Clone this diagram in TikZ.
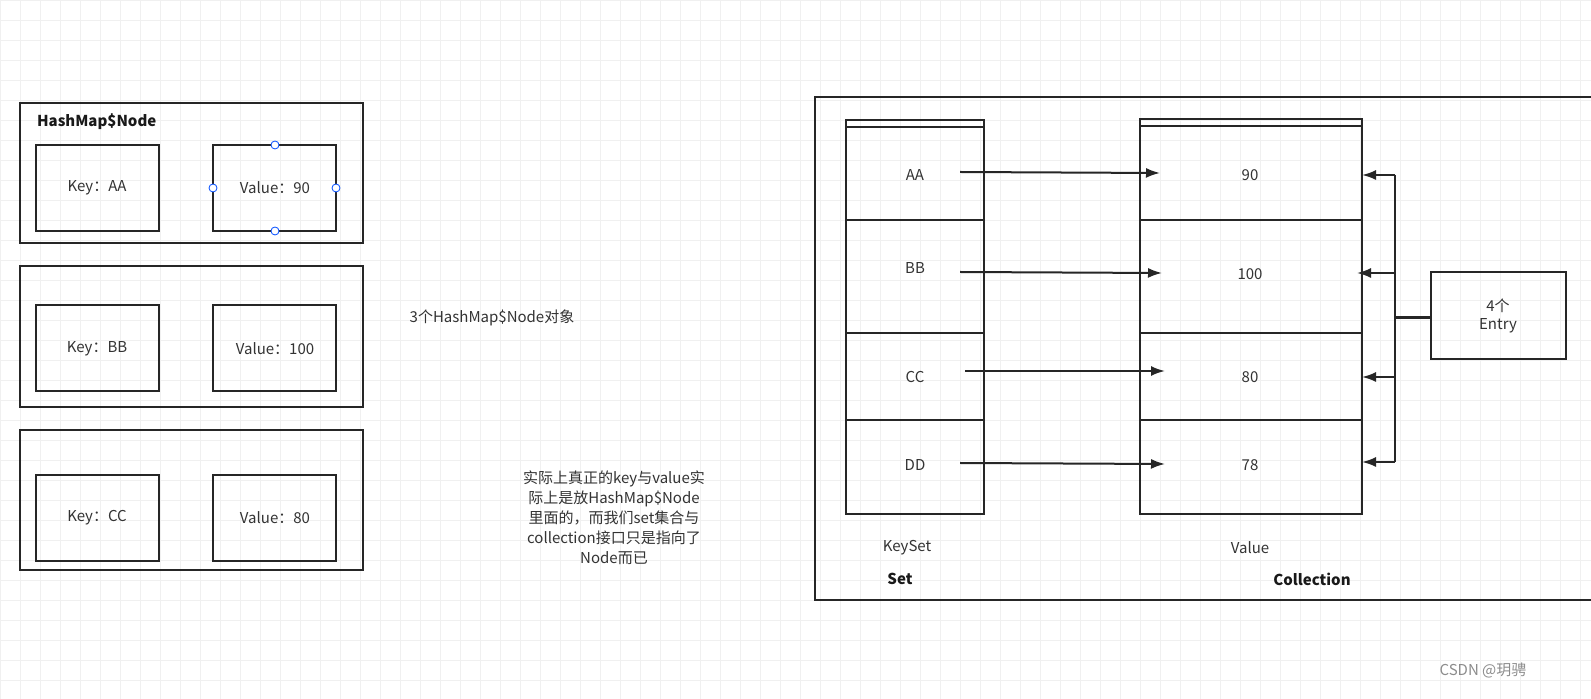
\documentclass[tikz,border=0pt]{standalone}
\usepackage{fontspec}
\setmainfont{Noto Sans CJK SC}
\usetikzlibrary{arrows.meta}
\begin{document}
\begin{tikzpicture}[x=0.5pt,y=-0.5pt,
  box/.style={draw=black!85,line width=1.1pt},
  lbl/.style={font=\fontsize{7.5}{9}\selectfont,text=black!80},
  blbl/.style={font=\fontsize{7.5}{9}\selectfont\bfseries,text=black!90},
  arr/.style={line width=1pt,draw=black!85,-{Latex[length=7pt,width=5pt]}},
  handle/.style={circle,draw=blue!70!cyan,fill=white,inner sep=0pt,minimum size=4pt,line width=0.4pt}]
\fill[white] (0,0) rectangle (1591,699);
\foreach \x in {0,20,...,1580} \draw[black!6,line width=0.3pt] (\x,0) -- (\x,699);
\foreach \y in {0,20,...,690} \draw[black!6,line width=0.3pt] (0,\y) -- (1591,\y);
% left node objects
\draw[box] (20,103) rectangle (363,243);
\node[blbl,anchor=west] (t1) at (30,122) {HashMap\$Node};
\draw[box] (36,145) rectangle (159,231); \node[lbl] (k1) at (97,188) {Key：AA};
\draw[box] (213,145) rectangle (336,231); \node[lbl] (v1) at (275,188) {Value：90};
\node[handle] (h1) at (275,145) {}; \node[handle] (h2) at (275,231) {};
\node[handle] (h3) at (213,188) {}; \node[handle] (h4) at (336,188) {};
\draw[box] (20,266) rectangle (363,407);
\draw[box] (36,305) rectangle (159,391); \node[lbl] (k2) at (97,349) {Key：BB};
\draw[box] (213,305) rectangle (336,391); \node[lbl] (v2) at (275,349) {Value：100};
\draw[box] (20,430) rectangle (363,570);
\draw[box] (36,475) rectangle (159,561); \node[lbl] (k3) at (97,518) {Key：CC};
\draw[box] (213,475) rectangle (336,561); \node[lbl] (v3) at (275,518) {Value：80};
\node[lbl] (n3) at (492,318) {3个HashMap\$Node对象};
\node[lbl,align=center,font=\fontsize{7.5}{10}\selectfont] (note) at (614,518) {实际上真正的key与value实\\际上是放HashMap\$Node\\里面的，而我们set集合与\\collection接口只是指向了\\Node而已};
% right
\draw[box] (1591,97) -- (815,97) -- (815,600) -- (1591,600);
\draw[box] (846,120) rectangle (984,514); \draw[box] (846,127) -- (984,127);
\foreach \y in {220,333,420} \draw[box] (846,\y) -- (984,\y);
\draw[box] (1140,119) rectangle (1362,514); \draw[box] (1140,126) -- (1362,126);
\foreach \y in {220,333,420} \draw[box] (1140,\y) -- (1362,\y);
\node[lbl] (ka) at (915,175) {AA};
\node[lbl] (kb) at (915,268) {BB};
\node[lbl] (kc) at (915,377) {CC};
\node[lbl] (kd) at (915,465) {DD};
\node[lbl] (va) at (1250,175) {90};
\node[lbl] (vb) at (1250,274) {100};
\node[lbl] (vc) at (1250,377) {80};
\node[lbl] (vd) at (1250,465) {78};
\coordinate (ka1) at (960,172); \coordinate (va1) at (1160,173);
\coordinate (kb1) at (960,272); \coordinate (vb1) at (1162,273);
\coordinate (kc1) at (965,371); \coordinate (vc1) at (1165,371);
\coordinate (kd1) at (960,463); \coordinate (vd1) at (1165,464);
\draw[arr] (ka1) -- (va1); \draw[arr] (kb1) -- (vb1);
\draw[arr] (kc1) -- (vc1); \draw[arr] (kd1) -- (vd1);
\draw[box] (1431,272) rectangle (1566,359);
\node[lbl,align=center] (e) at (1498,316) {4个\\Entry};
\coordinate (j) at (1395,318);
\draw[line width=1.5pt,black!85] (1431,318) -- (j);
\draw[line width=1pt,black!85] (1395,175) -- (1395,462);
\coordinate (ea) at (1362,175); \coordinate (eb) at (1357,273);
\coordinate (ec) at (1362,377); \coordinate (ed) at (1362,462);
\draw[arr] (1395,175) -- (ea); \draw[arr] (1395,273) -- (eb);
\draw[arr] (1395,377) -- (ec); \draw[arr] (1395,462) -- (ed);
\node[lbl] (ks) at (907,548) {KeySet};
\node[lbl] (vs) at (1250,548) {Value};
\node[blbl] (st) at (900,579) {Set};
\node[blbl] (co) at (1312,579) {Collection};
\node[lbl,text=black!45] (wm) at (1483,671) {CSDN @玥骋};
\pgfresetboundingbox
\useasboundingbox (0,0) rectangle (1591,699);
\end{tikzpicture}
\end{document}
